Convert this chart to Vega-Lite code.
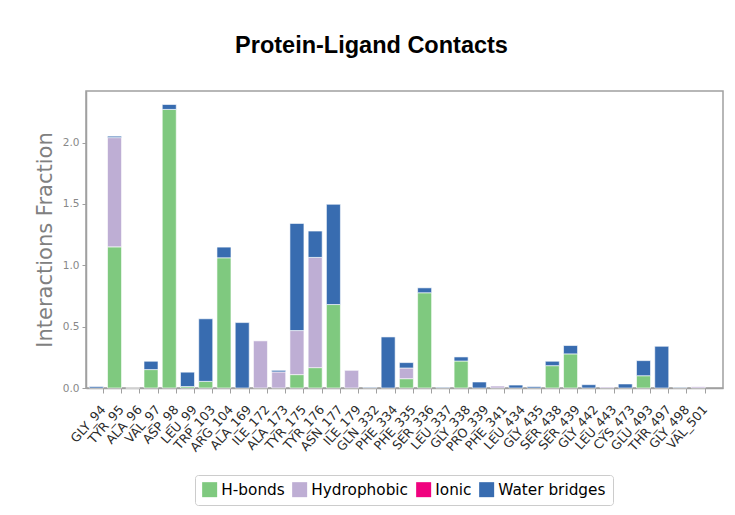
{
  "$schema": "https://vega.github.io/schema/vega-lite/v6.json",
  "width": 637,
  "height": 297,
  "autosize": {"type": "none"},
  "padding": {"left": 86, "top": 91, "right": 12, "bottom": 127},
  "background": "white",
  "title": {
    "text": "Protein-Ligand Contacts",
    "font": "Liberation Sans",
    "fontSize": 23.5,
    "fontWeight": "bold",
    "color": "#000000",
    "anchor": "middle",
    "frame": "group",
    "dx": -33,
    "offset": 15,
    "baseline": "alphabetic"
  },
  "data": {
    "values": [
      {"residue": "GLY_94", "type": "Water bridges", "fraction": 0.012},
      {"residue": "TYR_95", "type": "H-bonds", "fraction": 1.15},
      {"residue": "TYR_95", "type": "Hydrophobic", "fraction": 0.89},
      {"residue": "TYR_95", "type": "Water bridges", "fraction": 0.012},
      {"residue": "ALA_96", "type": "H-bonds", "fraction": 0},
      {"residue": "VAL_97", "type": "H-bonds", "fraction": 0.15},
      {"residue": "VAL_97", "type": "Water bridges", "fraction": 0.068},
      {"residue": "ASP_98", "type": "H-bonds", "fraction": 2.27},
      {"residue": "ASP_98", "type": "Water bridges", "fraction": 0.04},
      {"residue": "LEU_99", "type": "H-bonds", "fraction": 0.012},
      {"residue": "LEU_99", "type": "Water bridges", "fraction": 0.117},
      {"residue": "TRP_103", "type": "H-bonds", "fraction": 0.054},
      {"residue": "TRP_103", "type": "Water bridges", "fraction": 0.51},
      {"residue": "ARG_104", "type": "H-bonds", "fraction": 1.061},
      {"residue": "ARG_104", "type": "Water bridges", "fraction": 0.087},
      {"residue": "ALA_169", "type": "Water bridges", "fraction": 0.533},
      {"residue": "ILE_172", "type": "Hydrophobic", "fraction": 0.384},
      {"residue": "ALA_173", "type": "Hydrophobic", "fraction": 0.131},
      {"residue": "ALA_173", "type": "Water bridges", "fraction": 0.013},
      {"residue": "TYR_175", "type": "H-bonds", "fraction": 0.109},
      {"residue": "TYR_175", "type": "Hydrophobic", "fraction": 0.359},
      {"residue": "TYR_175", "type": "Water bridges", "fraction": 0.873},
      {"residue": "TYR_176", "type": "H-bonds", "fraction": 0.166},
      {"residue": "TYR_176", "type": "Hydrophobic", "fraction": 0.898},
      {"residue": "TYR_176", "type": "Water bridges", "fraction": 0.215},
      {"residue": "ASN_177", "type": "H-bonds", "fraction": 0.68},
      {"residue": "ASN_177", "type": "Water bridges", "fraction": 0.817},
      {"residue": "ILE_179", "type": "Hydrophobic", "fraction": 0.144},
      {"residue": "GLN_332", "type": "Water bridges", "fraction": 0.005},
      {"residue": "PHE_334", "type": "Water bridges", "fraction": 0.416},
      {"residue": "PHE_335", "type": "H-bonds", "fraction": 0.076},
      {"residue": "PHE_335", "type": "Hydrophobic", "fraction": 0.087},
      {"residue": "PHE_335", "type": "Water bridges", "fraction": 0.044},
      {"residue": "SER_336", "type": "H-bonds", "fraction": 0.776},
      {"residue": "SER_336", "type": "Water bridges", "fraction": 0.04},
      {"residue": "LEU_337", "type": "Water bridges", "fraction": 0.005},
      {"residue": "GLY_338", "type": "H-bonds", "fraction": 0.22},
      {"residue": "GLY_338", "type": "Water bridges", "fraction": 0.033},
      {"residue": "PRO_339", "type": "Water bridges", "fraction": 0.049},
      {"residue": "PHE_341", "type": "Hydrophobic", "fraction": 0.016},
      {"residue": "LEU_434", "type": "Water bridges", "fraction": 0.024},
      {"residue": "GLY_435", "type": "Water bridges", "fraction": 0.011},
      {"residue": "SER_438", "type": "H-bonds", "fraction": 0.182},
      {"residue": "SER_438", "type": "Water bridges", "fraction": 0.036},
      {"residue": "SER_439", "type": "H-bonds", "fraction": 0.278},
      {"residue": "SER_439", "type": "Water bridges", "fraction": 0.068},
      {"residue": "GLY_442", "type": "Water bridges", "fraction": 0.027},
      {"residue": "LEU_443", "type": "Hydrophobic", "fraction": 0.008},
      {"residue": "CYS_473", "type": "Water bridges", "fraction": 0.033},
      {"residue": "GLU_493", "type": "H-bonds", "fraction": 0.1},
      {"residue": "GLU_493", "type": "Water bridges", "fraction": 0.123},
      {"residue": "THR_497", "type": "Water bridges", "fraction": 0.34},
      {"residue": "GLY_498", "type": "Water bridges", "fraction": 0.005},
      {"residue": "VAL_501", "type": "Hydrophobic", "fraction": 0.01}
    ]
  },
  "mark": {"type": "bar", "stroke": "white", "strokeWidth": 0.6},
  "encoding": {
    "x": {
      "field": "residue",
      "type": "nominal",
      "sort": null,
      "scale": {"paddingInner": 0.232, "paddingOuter": 0.577, "align": 0.156},
      "axis": {
        "title": null,
        "labelAngle": -48,
        "labelAlign": "right",
        "labelBaseline": "middle",
        "bandPosition": 1,
        "labelFont": "DejaVu Sans",
        "labelFontSize": 12.5,
        "labelColor": "#2a2a2a",
        "labelPadding": 14,
        "labelOffset": 7,
        "tickColor": "#a0a0a0",
        "tickSize": 5,
        "tickWidth": 1,
        "domainColor": "#a0a0a0",
        "domainWidth": 1.5,
        "grid": false
      }
    },
    "y": {
      "field": "fraction",
      "type": "quantitative",
      "stack": "zero",
      "scale": {"domain": [0, 2.42], "nice": false},
      "axis": {
        "title": "Interactions Fraction",
        "titleFont": "DejaVu Sans",
        "titleFontSize": 21,
        "titleFontWeight": "normal",
        "titleColor": "#808080",
        "titlePadding": 7,
        "values": [0, 0.5, 1, 1.5, 2],
        "format": ".1f",
        "labelFont": "DejaVu Sans",
        "labelFontSize": 10.5,
        "labelColor": "#888888",
        "labelPadding": 3,
        "tickColor": "#a0a0a0",
        "tickSize": 4,
        "domainColor": "#a0a0a0",
        "domainWidth": 1.5,
        "grid": false
      }
    },
    "order": {"field": "type", "sort": "ascending"},
    "color": {
      "field": "type",
      "type": "nominal",
      "scale": {
        "domain": ["H-bonds", "Hydrophobic", "Ionic", "Water bridges"],
        "range": ["#7fc97f", "#beaed4", "#f0027f", "#386cb0"]
      },
      "legend": {
        "title": null,
        "orient": "none",
        "legendX": 109,
        "legendY": 384,
        "direction": "horizontal",
        "symbolType": "square",
        "symbolSize": 225,
        "symbolStrokeWidth": 0,
        "labelFont": "DejaVu Sans",
        "labelFontSize": 15.3,
        "labelColor": "#000000",
        "labelOffset": 4,
        "labelLimit": 300,
        "columnPadding": 7,
        "padding": 7,
        "strokeColor": "#cccccc",
        "fillColor": "white",
        "cornerRadius": 3
      }
    }
  },
  "config": {"view": {"stroke": "#a0a0a0", "strokeWidth": 1.5}}
}
